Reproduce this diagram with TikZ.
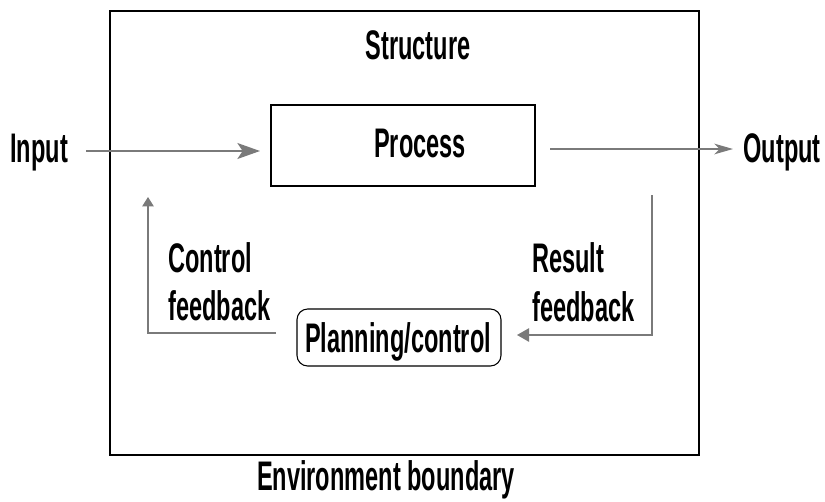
\documentclass[tikz,border=0pt]{standalone}
\usepackage{fontspec}
\setmainfont{Liberation Sans}[FakeStretch=0.57]
\usetikzlibrary{arrows.meta}
\definecolor{flowgray}{HTML}{7A7A7A}
\tikzset{
  lbl/.style={font=\fontsize{31}{32}\selectfont\bfseries, inner sep=0pt},
  frame/.style={draw=black, line width=1.5pt, inner sep=0pt},
  procbox/.style={draw=black, line width=0.9pt, inner sep=0pt},
  planbox/.style={draw=black, line width=0.8pt, rounded corners=8pt, inner sep=0pt},
  flow/.style={draw=flowgray, line width=1.1pt},
  bighead/.style={-{Stealth[length=17pt,width=12pt,inset=4pt]}},
  smallhead/.style={-{Triangle[length=7pt,width=8.5pt]}}
}
\begin{document}
\begin{tikzpicture}[x=0.75pt,y=-0.75pt]
  \useasboundingbox (0,0) rectangle (825,501);

  % environment boundary and the boxes inside it
  \node[frame, minimum width=441.4pt, minimum height=333pt] (env) at (404.75,233) {};
  \node[procbox, minimum width=198pt, minimum height=60.75pt] (proc) at (403,145.5) {};
  \node[planbox, minimum width=153pt, minimum height=42.75pt] (plan) at (399,337.5) {};

  % labels
  \node[lbl, anchor=base] (structure) at (418,59) {Structure};
  \node[lbl, anchor=base] (process) at (420,157) {Process};
  \node[lbl, anchor=base west] (input) at (10,162) {Input};
  \node[lbl, anchor=base east] (output) at (821,162) {Output};
  \node[lbl, anchor=base west] (ctrl1) at (168,272) {Control};
  \node[lbl, anchor=base west] (ctrl2) at (168,320) {feedback};
  \node[lbl, anchor=base west] (res1) at (532,272) {Result};
  \node[lbl, anchor=base west] (res2) at (532,321) {feedback};
  \node[lbl, anchor=base] (planning) at (398,352) {Planning/control};
  \node[lbl, anchor=base] (envlabel) at (386,490) {Environment boundary};

  % connector end points
  \coordinate (inStart) at (86,151);
  \coordinate (inEnd) at (260,151);
  \coordinate (outStart) at (550,149);
  \coordinate (outEnd) at (733,149);
  \coordinate (cStart) at (276,333);
  \coordinate (cCorner) at (148,333);
  \coordinate (cEnd) at (148,197);
  \coordinate (rStart) at (652,195);
  \coordinate (rCorner) at (652,335);
  \coordinate (rEnd) at (517,335);

  % flows
  \draw[flow, bighead] (inStart) -- (inEnd);
  \draw[flow, -{Stealth[length=14pt,width=8pt,inset=4pt]}] (outStart) -- (outEnd);
  \draw[flow, smallhead] (cStart) -- (cCorner) -- (cEnd);
  \draw[flow, -{Triangle[length=9pt,width=10pt]}] (rStart) -- (rCorner) -- (rEnd);
\end{tikzpicture}
\end{document}
